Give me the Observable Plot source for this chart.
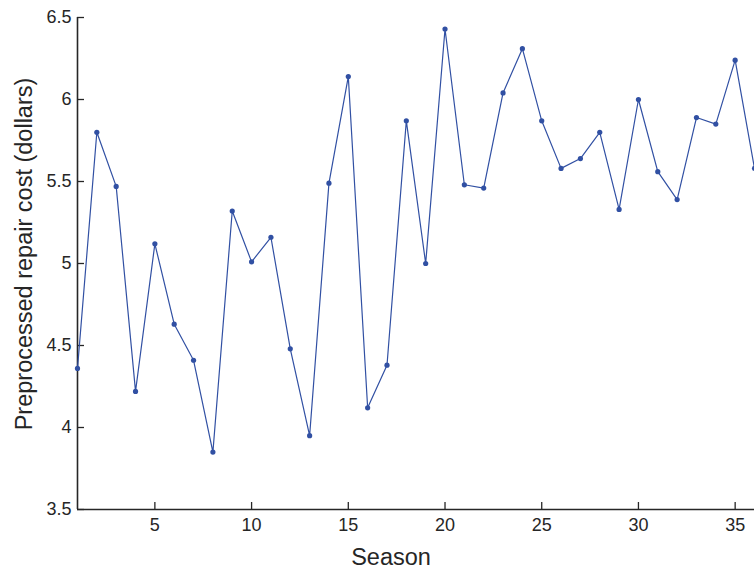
<!DOCTYPE html>
<html>
<head>
<meta charset="utf-8">
<script src="https://cdn.jsdelivr.net/npm/d3@7"></script>
<script src="https://cdn.jsdelivr.net/npm/@observablehq/plot@0.6"></script>
<style>
  html, body { margin: 0; padding: 0; background: #fff; }
  #chart { width: 754px; height: 571px; }
</style>
</head>
<body>
<div id="chart"></div>
<script>
const seasons = [1,2,3,4,5,6,7,8,9,10,11,12,13,14,15,16,17,18,19,20,21,22,23,24,25,26,27,28,29,30,31,32,33,34,35,36];
const costs = [4.36,5.80,5.47,4.22,5.12,4.63,4.41,3.85,5.32,5.01,5.16,4.48,3.95,5.49,6.14,4.12,4.38,5.87,5.00,6.43,5.48,5.46,6.04,6.31,5.87,5.58,5.64,5.80,5.33,6.00,5.56,5.39,5.89,5.85,6.24,5.58];
const xTicks = [5,10,15,20,25,30,35];
const yTicks = [3.5,4,4.5,5,5.5,6,6.5];
const xLabel = "Season";
const yLabel = "Preprocessed repair cost (dollars)";

const data = seasons.map((s, i) => ({season: s, cost: costs[i]}));

const W = 754, H = 571, mL = 77, mR = 0, mT = 17, mB = 62;
const plotW = W - mL - mR, plotH = H - mT - mB;
const tickLen = 7;
const axisColor = "#262626";
const lineColor = "#3150a3";

const chart = Plot.plot({
  width: W,
  height: H,
  marginLeft: mL,
  marginRight: mR,
  marginTop: mT,
  marginBottom: mB,
  style: {fontFamily: "'Liberation Sans', Arial, sans-serif", fontSize: "18px", color: axisColor, background: "#fff", overflow: "visible"},
  x: {domain: [1, 36]},
  y: {domain: [3.5, 6.5]},
  marks: [
    Plot.axisX(xTicks, {tickSize: 0, tickPadding: 9, label: null, fontSize: 18}),
    Plot.axisY(yTicks, {tickSize: 0, tickPadding: 6, label: null, fontSize: 18, tickFormat: d => String(d)}),
    Plot.tickX(xTicks, {x: d => d, insetTop: plotH - tickLen, stroke: axisColor, strokeWidth: 1.3}),
    Plot.tickY(yTicks, {y: d => d, insetRight: plotW - tickLen, stroke: axisColor, strokeWidth: 1.3}),
    Plot.ruleX([1], {stroke: axisColor, strokeWidth: 1.6}),
    Plot.ruleY([3.5], {stroke: axisColor, strokeWidth: 1.6}),
    Plot.line(data, {x: "season", y: "cost", stroke: lineColor, strokeWidth: 1.2}),
    Plot.dot(data, {x: "season", y: "cost", fill: lineColor, r: 2.6, stroke: "none"}),
    Plot.text([xLabel], {frameAnchor: "bottom", textAnchor: "middle", lineAnchor: "middle", dy: 48, dx: -25, fontSize: 23.5, fill: axisColor}),
    Plot.text([yLabel], {frameAnchor: "left", textAnchor: "middle", lineAnchor: "middle", rotate: -90, dx: -53, dy: -9.5, fontSize: 23.5, fill: axisColor})
  ]
});
document.getElementById("chart").appendChild(chart);
</script>
</body>
</html>
